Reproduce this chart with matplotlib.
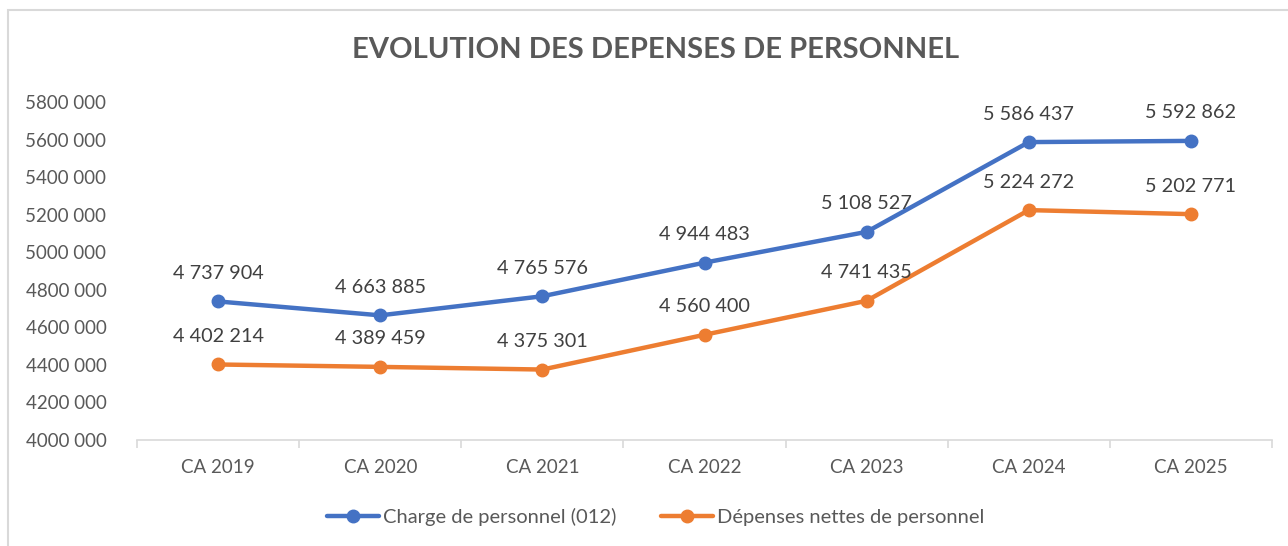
import matplotlib.pyplot as plt
from matplotlib.patches import Rectangle
from matplotlib.ticker import FuncFormatter

plt.rcParams['font.family'] = ['Lato', 'DejaVu Sans']

categories = ["CA 2019", "CA 2020", "CA 2021", "CA 2022", "CA 2023", "CA 2024", "CA 2025"]
charge_012 = [4737904, 4663885, 4765576, 4944483, 5108527, 5586437, 5592862]
depenses_nettes = [4402214, 4389459, 4375301, 4560400, 4741435, 5224272, 5202771]
yticks = [4000000, 4200000, 4400000, 4600000, 4800000, 5000000, 5200000, 5400000, 5600000, 5800000]

grey = "#595959"
blue = "#4472C4"
orange = "#ED7D31"

fig = plt.figure(figsize=(12.88, 5.46), dpi=100)
ax = fig.add_axes([0.1064, 0.1941, 0.8812, 0.6191])

# cadre du graphique (coupé à droite et en bas)
fig.patches.append(Rectangle((8 / 1288, -0.1), 1.2, 1 - 10 / 546 + 0.1, transform=fig.transFigure,
                             fill=False, edgecolor="#D9D9D9", linewidth=1.5))

x = list(range(len(categories)))
ax.plot(x, charge_012, color=blue, lw=3.2, marker='o', ms=9, label="Charge de personnel (012)",
        solid_capstyle='round')
ax.plot(x, depenses_nettes, color=orange, lw=3.2, marker='o', ms=9, label="Dépenses nettes de personnel",
        solid_capstyle='round')


def fmt(v):
    return f"{v:,}".replace(",", " ")


for xi, v in zip(x, charge_012):
    ax.annotate(fmt(v), (xi, v), xytext=(0, 14), textcoords='offset points', ha='center', va='bottom',
                fontsize=14.3, color="#404040")
for xi, v in zip(x, depenses_nettes):
    ax.annotate(fmt(v), (xi, v), xytext=(0, 14), textcoords='offset points', ha='center', va='bottom',
                fontsize=14.3, color="#404040")

ax.set_xlim(-0.5, 6.5)
ax.set_ylim(4000000, 5800000)
ax.set_yticks(yticks)
ax.yaxis.set_major_formatter(FuncFormatter(lambda v, p: f"{int(v) // 1000} 000"))
ax.set_xticks(x)
ax.set_xticklabels(categories)
ax.set_xticks([i - 0.5 for i in range(len(categories) + 1)], minor=True)

for s in ["top", "right", "left"]:
    ax.spines[s].set_visible(False)
ax.spines["bottom"].set_color("#D9D9D9")
ax.spines["bottom"].set_linewidth(1.2)
ax.tick_params(axis='y', length=0, pad=22, labelsize=13.5, labelcolor=grey)
ax.tick_params(axis='x', which='major', length=0, pad=14, labelsize=13.5, labelcolor=grey)
ax.tick_params(axis='x', which='minor', length=6, color="#D9D9D9", width=1.2)

fig.text(0.509, 0.908, "EVOLUTION DES DEPENSES DE PERSONNEL", ha='center', va='center',
         fontsize=21, fontweight='bold', color=grey)

fig.legend(loc='center', bbox_to_anchor=(0.509, 0.053), ncol=2, frameon=False, fontsize=14.5,
           handlelength=2.6, columnspacing=2.2, handletextpad=0.2, labelcolor=grey)

fig.savefig("out.png", dpi=100)
